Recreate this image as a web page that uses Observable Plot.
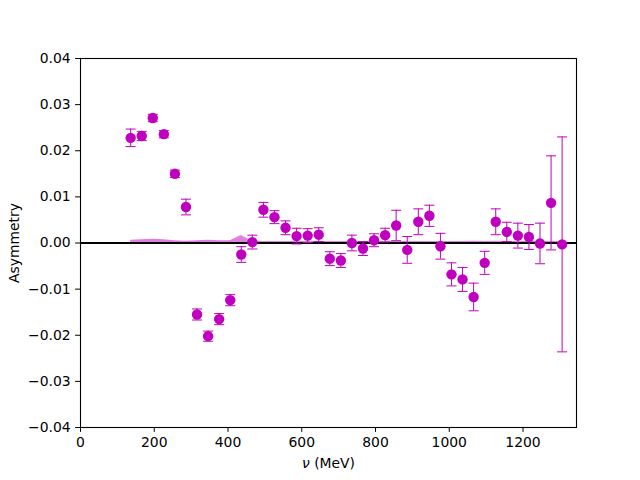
<!DOCTYPE html>
<html>
<head>
<meta charset="utf-8">
<script src="https://cdn.jsdelivr.net/npm/d3@7"></script>
<script src="https://cdn.jsdelivr.net/npm/@observablehq/plot@0.6"></script>
<style>
  html, body { margin: 0; padding: 0; background: #fff; }
  #chart { width: 640px; height: 480px; }
</style>
</head>
<body>
<div id="chart"></div>
<script>
// Photon energy (MeV)
const energy = [136, 166, 196, 226, 256, 286, 316, 346, 376, 406,
                436, 466, 496, 526, 556, 586, 616, 646, 676, 706,
                736, 766, 796, 826, 856, 886, 916, 946, 976, 1006,
                1036, 1066, 1096, 1126, 1156, 1186, 1216, 1246, 1276, 1306];
// Asymmetry values
const asym = [0.0228, 0.0232, 0.0271, 0.0236, 0.0150, 0.0078, -0.0155, -0.0202, -0.0165, -0.0124,
              -0.0025, 0.0002, 0.0072, 0.0056, 0.0033, 0.0015, 0.0016, 0.0018, -0.0034, -0.0038,
              0.0000, -0.0012, 0.0006, 0.0017, 0.0038, -0.0015, 0.0046, 0.0059, -0.0007, -0.0068,
              -0.0079, -0.0117, -0.0043, 0.0046, 0.0024, 0.0016, 0.0013, -0.0001, 0.0087, -0.0003];
// Statistical errors
const err = [0.0019, 0.0010, 0.0008, 0.0008, 0.0008, 0.0017, 0.0012, 0.0011, 0.0012, 0.0012,
             0.0017, 0.0015, 0.0016, 0.0014, 0.0015, 0.0017, 0.0015, 0.0015, 0.0015, 0.0015,
             0.0017, 0.0015, 0.0014, 0.0015, 0.0033, 0.0029, 0.0028, 0.0023, 0.0028, 0.0025,
             0.0026, 0.0030, 0.0025, 0.0028, 0.0021, 0.0027, 0.0027, 0.0044, 0.0102, 0.0233];
// Systematic error band
const sys = [0.0006, 0.0007, 0.0008, 0.0007, 0.0005, 0.0004, 0.0005, 0.0006, 0.0005, 0.0005,
             0.0016, 0.0004, 0.0003, 0.0003, 0.0003, 0.0003, 0.0003, 0.0003, 0.0003, 0.0003,
             0.0003, 0.0003, 0.0003, 0.0003, 0.0003, 0.0003, 0.0003, 0.0003, 0.0003, 0.0003,
             0.0003, 0.0004, 0.0003, 0.0004, 0.0003, 0.0003, 0.0003, 0.0003, 0.0003, 0.0003];

const xTicks = [0, 200, 400, 600, 800, 1000, 1200];
const yTicks = [-0.04, -0.03, -0.02, -0.01, 0.00, 0.01, 0.02, 0.03, 0.04];

const data = energy.map((x, i) => ({x, y: asym[i], e: err[i], s: sys[i]}));
const color = "#bf00bf";

const cap = {
  draw(ctx, size) {
    const r = Math.sqrt(size / Math.PI);
    ctx.moveTo(-r, 0);
    ctx.lineTo(r, 0);
  }
};

const chart = Plot.plot({
  width: 640,
  height: 480,
  marginLeft: 80,
  marginRight: 64,
  marginTop: 58,
  marginBottom: 53,
  style: {fontFamily: "DejaVu Sans", fontSize: "13.9px", color: "black", background: "white"},
  x: {domain: [0, 1345]},
  y: {domain: [-0.04, 0.04]},
  marks: [
    Plot.areaY(data, {x: "x", y1: () => 0, y2: "s", fill: color, fillOpacity: 0.5}),
    Plot.ruleY([0], {stroke: "black", strokeWidth: 2}),
    Plot.ruleX(data, {x: "x", y1: d => d.y - d.e, y2: d => d.y + d.e, stroke: color, strokeWidth: 1}),
    Plot.dot(data, {x: "x", y: d => d.y - d.e, symbol: cap, r: 5, stroke: color, strokeWidth: 1}),
    Plot.dot(data, {x: "x", y: d => d.y + d.e, symbol: cap, r: 5, stroke: color, strokeWidth: 1}),
    Plot.dot(data, {x: "x", y: "y", r: 5.2, fill: color, stroke: "none"}),
    Plot.frame({stroke: "black", strokeWidth: 1.1}),
    Plot.axisX({ticks: xTicks, tickFormat: d3.format("d"), tickSize: 4.9, tickPadding: 4.9,
                label: "ν (MeV)", labelAnchor: "center", labelArrow: "none", labelOffset: 40}),
    Plot.axisY({ticks: yTicks, tickFormat: d3.format(".2f"), tickSize: 4.9, tickPadding: 4.9,
                label: "Asymmetry", labelAnchor: "center", labelArrow: "none", labelOffset: 71})
  ]
});

// italic nu in x label
const xl = d3.select(chart).select('[aria-label="x-axis label"] text');
if (!xl.empty()) {
  xl.text(null);
  xl.append("tspan").attr("font-style", "italic").text("ν");
  xl.append("tspan").text(" (MeV)");
}

document.getElementById("chart").append(chart);
</script>
</body>
</html>
